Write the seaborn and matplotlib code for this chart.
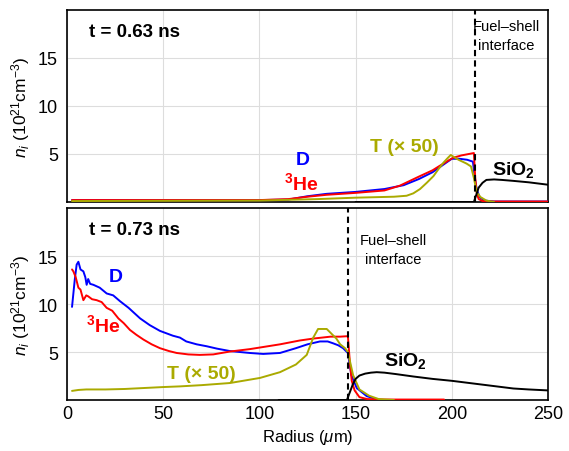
import numpy as np
import pandas as pd
import matplotlib
matplotlib.use("Agg")
import matplotlib.pyplot as plt
import seaborn as sns

# ---- t = 0.63 ns ----
d_top_r = [2.6, 60, 100, 115, 125, 135, 150, 165, 175, 183, 190, 195, 200, 204, 208, 211, 212, 213, 214.5, 217, 222, 250]
d_top = [0.2, 0.2, 0.2, 0.25, 0.6, 0.85, 1.05, 1.35, 1.75, 2.4, 3.1, 3.8, 4.5, 4.5, 4.4, 4.2, 2.5, 1.3, 0.5, 0.15, 0.05, 0.05]
he_top_r = [2.6, 60, 100, 115, 125, 135, 150, 165, 173, 183.5, 190, 194, 200.6, 205, 211.5, 212.2, 213, 214, 216, 220, 250]
he_top = [0.2, 0.2, 0.2, 0.3, 0.55, 0.75, 0.95, 1.2, 1.7, 2.7, 3.3, 3.8, 4.6, 4.85, 5.1, 2.5, 0.9, 0.3, 0.1, 0.05, 0.05]
t_top_r = [2.6, 100, 130, 150, 170, 176.5, 180, 183.5, 187, 190.5, 193, 195.7, 198, 199.5, 201, 203.5, 207.7, 210, 211.5, 213, 215, 218, 222]
t_top = [0.1, 0.15, 0.3, 0.45, 0.55, 0.65, 0.9, 1.35, 2.0, 2.7, 3.4, 4.1, 4.6, 4.9, 4.7, 4.4, 4.0, 3.7, 2.5, 1.0, 0.5, 0.15, 0.0]
si_top_r = [150, 211.5, 212.5, 214, 216, 218, 222, 226, 232, 240, 250]
si_top = [0, 0, 0.6, 1.5, 2.0, 2.3, 2.35, 2.3, 2.2, 2.05, 1.8]

# ---- t = 0.73 ns ----
d_bot_r = [2.6, 4.0, 5.0, 5.9, 7.0, 8.5, 9.5, 10.2, 11.0, 12.0, 13.7, 17.0, 20.6, 24.0, 27.5, 32.0, 38.0, 43.0, 48.3,
           55.0, 58.7, 62.0, 67.4, 72.6, 78.0, 84.7, 95.0, 102.0, 110.7, 119.0, 125.0, 131.5, 135.5, 138.4, 141.0,
           143.5, 146.0, 147.8, 150.6, 155.8, 160.9]
d_bot = [9.7, 12.5, 14.1, 14.4, 13.6, 13.4, 12.8, 12.0, 12.6, 12.1, 12.0, 11.7, 11.1, 10.9, 10.3, 9.6, 8.5, 7.8, 7.2,
         6.7, 6.5, 6.1, 5.8, 5.6, 5.35, 5.1, 4.9, 4.8, 4.9, 5.4, 5.8, 6.1, 6.1, 5.9, 5.7,
         5.4, 4.9, 2.6, 1.25, 0.4, 0.1]
he_bot_r = [2.6, 3.3, 4.5, 5.9, 7.0, 8.5, 10.0, 11.0, 13.0, 15.4, 18.0, 20.6, 23.5, 26.7, 29.5, 32.7, 36.0, 39.7, 44.0,
            48.3, 53.0, 57.0, 63.0, 69.0, 76.0, 84.7, 95.0, 110.7, 121.0, 128.0, 137.0, 142.0, 146.0, 147.0, 148.0,
            149.5, 152.0, 156.0, 165.0, 196.0]
he_bot = [13.6, 13.4, 12.8, 11.7, 11.5, 10.4, 10.9, 10.8, 10.5, 10.4, 10.2, 9.6, 9.3, 8.5, 8.0, 7.3, 6.8, 6.3, 5.8,
          5.4, 5.1, 4.9, 4.75, 4.7, 4.75, 5.05, 5.3, 5.8, 6.2, 6.4, 6.6, 6.6, 6.65, 4.0, 2.0,
          1.0, 0.3, 0.1, 0.05, 0.05]
t_bot_r = [2.6, 6, 10, 20, 30, 40, 50, 58.7, 70, 84.7, 100.3, 110.7, 119, 124.6, 128, 130.5, 132, 135, 137, 140,
           142, 144.5, 146, 148.7, 152, 157, 162, 170]
t_bot = [0.95, 1.05, 1.1, 1.1, 1.15, 1.25, 1.35, 1.42, 1.55, 1.77, 2.3, 2.9, 3.7, 4.7, 6.5, 7.4, 7.4, 7.4, 7.0, 6.4,
         5.8, 5.4, 5.0, 2.6, 1.1, 0.45, 0.1, 0.0]
si_bot_r = [110, 145.5, 147, 148.5, 150, 152, 155, 158, 161, 165, 171, 180, 190, 200, 210, 220, 232, 240, 250]
si_bot = [0, 0, 0.8, 1.6, 2.2, 2.55, 2.75, 2.85, 2.9, 2.85, 2.7, 2.45, 2.2, 2.0, 1.75, 1.5, 1.2, 1.1, 1.0]

panels = [
    dict(time="t = 0.63 ns", interface=212,
         series=[(d_top_r, d_top, "D"), (he_top_r, he_top, "He"), (t_top_r, t_top, "T"), (si_top_r, si_top, "SiO2")],
         labels={"D": (122.7, 4.4), "He": (122, 2.1), "T": (175.6, 5.8), "SiO2": (232, 3.4)},
         iface_txt=(228.5, 17.3)),
    dict(time="t = 0.73 ns", interface=146,
         series=[(d_bot_r, d_bot, "D"), (he_bot_r, he_bot, "He"), (t_bot_r, t_bot, "T"), (si_bot_r, si_bot, "SiO2")],
         labels={"D": (25.5, 12.9), "He": (18.7, 7.9), "T": (70, 2.8), "SiO2": (175.7, 4.2)},
         iface_txt=(169.4, 15.7)),
]

colors = {"D": "#0000ff", "He": "#ff0000", "T": "#aaaa00", "SiO2": "#000000"}
texts = {"D": "D", "He": r"$^{\mathbf{3}}$He", "T": "T (× 50)", "SiO2": r"SiO$_{\mathbf{2}}$"}

sns.set_style("whitegrid", {"grid.color": "#dddddd", "axes.edgecolor": "black", "text.color": "black",
                            "axes.labelcolor": "black", "xtick.color": "black", "ytick.color": "black"})
plt.rcParams["font.family"] = ["Liberation Sans", "DejaVu Sans"]
plt.rcParams["mathtext.fontset"] = "custom"
plt.rcParams["mathtext.rm"] = "Liberation Sans"
plt.rcParams["mathtext.it"] = "Liberation Sans:italic"
plt.rcParams["mathtext.bf"] = "Liberation Sans:bold"

fig = plt.figure(figsize=(5.69, 4.52), dpi=100)
axes = [fig.add_axes([0.1178, 0.5509, 0.8452, 0.4248]),
        fig.add_axes([0.1178, 0.1128, 0.8452, 0.4248])]

for ax, p in zip(axes, panels):
    frames = []
    for r, n, name in p["series"]:
        frames.append(pd.DataFrame({"r": r, "n": n, "species": name}))
    df = pd.concat(frames, ignore_index=True)
    sns.lineplot(data=df, x="r", y="n", hue="species", palette=colors, sort=False,
                 estimator=None, legend=False, linewidth=1.4, ax=ax, zorder=3)
    ax.axvline(p["interface"], color="black", linestyle=(0, (3, 2)), linewidth=1.5, zorder=4)
    ax.set_xlim(0, 250)
    ax.set_ylim(0, 20)
    ax.set_yticks([5, 10, 15])
    ax.set_xticks([0, 50, 100, 150, 200, 250])
    ax.tick_params(axis="both", labelsize=13, length=3, width=0.8, color="black")
    ax.tick_params(axis="x", direction="in")
    for s in ax.spines.values():
        s.set_linewidth(1.2)
    ax.set_ylabel(r"$n_i$ (10$^{21}$cm$^{-3}$)", fontsize=12.5, labelpad=4)
    ax.text(0.045, 0.93, p["time"], transform=ax.transAxes, fontsize=13.5, fontweight="bold", va="top")
    for key, (x, y) in p["labels"].items():
        ax.text(x, y, texts[key], color=colors[key], fontsize=14, fontweight="bold", ha="center", va="center")
    ax.text(p["iface_txt"][0], p["iface_txt"][1], "Fuel–shell\ninterface", fontsize=10.5,
            ha="center", va="center", linespacing=1.45)

axes[0].set_xlabel("")
axes[0].tick_params(axis="x", labelbottom=False)
axes[1].set_xlabel(r"Radius ($\mu$m)", fontsize=12)

fig.savefig("out.png", dpi=100)
